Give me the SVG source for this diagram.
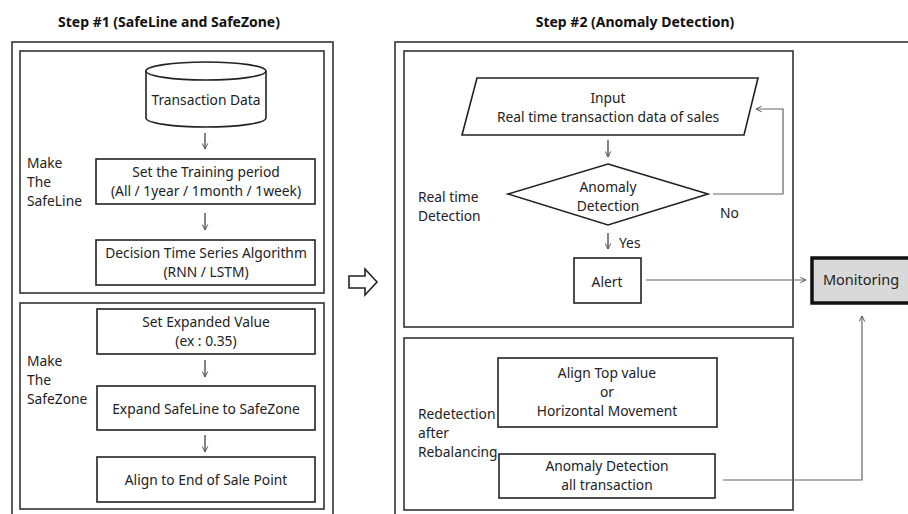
<svg xmlns="http://www.w3.org/2000/svg" width="908" height="514" viewBox="0 0 908 514">
<defs>
<marker id="open" viewBox="0 0 10 10" refX="9" refY="5" markerWidth="7" markerHeight="7" orient="auto" markerUnits="userSpaceOnUse">
<path d="M1,1 L9,5 L1,9" fill="none" stroke="#555" stroke-width="1.4"/>
</marker>
</defs>
<style>
.frame{fill:none;stroke:#333;stroke-width:1.6}
.box{fill:#fff;stroke:#222;stroke-width:1.6}
.t{font-family:"Noto Sans","Open Sans",sans-serif;font-size:13.8px;fill:#222}
.c{text-anchor:middle}
.title{font-family:"Noto Sans","Open Sans",sans-serif;font-size:14px;font-weight:bold;fill:#111;text-anchor:middle}
.con{fill:none;stroke:#666;stroke-width:1.2}
.dn{fill:none;stroke:#333;stroke-width:1.2}
</style>
<rect width="908" height="514" fill="#fff"/>

<g id="titles">
<text class="title" x="169" y="27">Step #1 (SafeLine and SafeZone)</text>
<text class="title" x="635" y="27">Step #2 (Anomaly Detection)</text>
</g>

<g id="step1-frame">
<rect class="frame" x="12" y="42" width="321" height="480"/>
</g>
<g id="safeline-group">
<rect class="frame" x="20" y="51" width="304" height="242"/>
<text class="t" x="27" y="168">Make</text>
<text class="t" x="27" y="187">The</text>
<text class="t" x="27" y="206">SafeLine</text>
</g>
<g id="transaction-data">
<path class="box" d="M146,71 L146,118 A60,9 0 0 0 266,118 L266,71 A60,9 0 0 0 146,71 Z"/>
<path class="box" d="M146,71 A60,9 0 0 0 266,71"/>
<text class="t c" x="206" y="105">Transaction Data</text>
</g>
<g id="training-period">
<rect class="box" x="96" y="159" width="219" height="45"/>
<text class="t c" x="206" y="177">Set the Training period</text>
<text class="t c" x="206" y="196">(All / 1year / 1month / 1week)</text>
</g>
<g id="algorithm">
<rect class="box" x="96" y="240" width="219" height="45"/>
<text class="t c" x="206" y="258">Decision Time Series Algorithm</text>
<text class="t c" x="206" y="277">(RNN / LSTM)</text>
</g>

<g id="safezone-group">
<rect class="frame" x="20" y="303" width="304" height="206"/>
<text class="t" x="27" y="366">Make</text>
<text class="t" x="27" y="385">The</text>
<text class="t" x="27" y="404">SafeZone</text>
</g>
<g id="expanded-value">
<rect class="box" x="97" y="309" width="218" height="45"/>
<text class="t c" x="206" y="327">Set Expanded Value</text>
<text class="t c" x="206" y="346">(ex : 0.35)</text>
</g>
<g id="expand-safeline">
<rect class="box" x="97" y="386" width="218" height="44"/>
<text class="t c" x="206" y="414">Expand SafeLine to SafeZone</text>
</g>
<g id="align-end">
<rect class="box" x="97" y="457" width="218" height="45"/>
<text class="t c" x="206" y="485">Align to End of Sale Point</text>
</g>

<g id="step-arrow">
<polygon points="349,276 365,276 365,269 377,282 365,295 365,288 349,288" fill="#fff" stroke="#222" stroke-width="1.6" stroke-linejoin="miter"/>
</g>

<g id="step2-frame">
<rect class="frame" x="395" y="42" width="530" height="480"/>
</g>
<g id="realtime-group">
<rect class="frame" x="404" y="51" width="389" height="276"/>
<text class="t" x="418" y="202">Real time</text>
<text class="t" x="418" y="221">Detection</text>
</g>
<g id="input">
<polygon class="box" points="477,78 758,78 744,135 462,135"/>
<text class="t c" x="608" y="103">Input</text>
<text class="t c" x="608" y="122">Real time transaction data of sales</text>
</g>
<g id="anomaly-decision">
<polygon class="box" points="608,164 708,194 608,225 508,194"/>
<text class="t c" x="608" y="192">Anomaly</text>
<text class="t c" x="608" y="211">Detection</text>
</g>
<g id="alert">
<rect class="box" x="574" y="258" width="67" height="45"/>
<text class="t c" x="607" y="287">Alert</text>
</g>

<g id="redetection-group">
<rect class="frame" x="404" y="338" width="389" height="172"/>
<text class="t" x="418" y="419">Redetection</text>
<text class="t" x="418" y="438">after</text>
<text class="t" x="418" y="457">Rebalancing</text>
</g>
<g id="align-top">
<rect class="box" x="498" y="358" width="219" height="69"/>
<text class="t c" x="607" y="378">Align Top value</text>
<text class="t c" x="607" y="397">or</text>
<text class="t c" x="607" y="416">Horizontal Movement</text>
</g>
<g id="anomaly-all">
<rect class="box" x="499" y="454" width="216" height="44"/>
<text class="t c" x="607" y="471">Anomaly Detection</text>
<text class="t c" x="607" y="490">all transaction</text>
</g>

<g id="monitoring">
<rect x="812" y="258" width="110" height="45" fill="#d9d9d9" stroke="#111" stroke-width="3.5"/>
<text class="t c" x="861" y="285" style="font-size:14.5px">Monitoring</text>
</g>

<g id="connectors">
<line class="dn" x1="205" y1="133" x2="205" y2="149" marker-end="url(#open)"/>
<line class="dn" x1="205" y1="213" x2="205" y2="230" marker-end="url(#open)"/>
<line class="dn" x1="205" y1="360" x2="205" y2="377" marker-end="url(#open)"/>
<line class="dn" x1="205" y1="435" x2="205" y2="452" marker-end="url(#open)"/>
<line class="dn" x1="608" y1="140" x2="608" y2="157" marker-end="url(#open)"/>
<line class="dn" x1="608" y1="233" x2="608" y2="249" marker-end="url(#open)"/>
<text class="t" x="619" y="248">Yes</text>
<polyline class="con" points="713,194 783,194 783,109 756,109" marker-end="url(#open)"/>
<text class="t" x="720" y="218">No</text>
<line class="con" x1="646" y1="280" x2="806" y2="280" marker-end="url(#open)"/>
<polyline class="con" points="723,480 862,480 862,316" marker-end="url(#open)"/>
</g>
</svg>
